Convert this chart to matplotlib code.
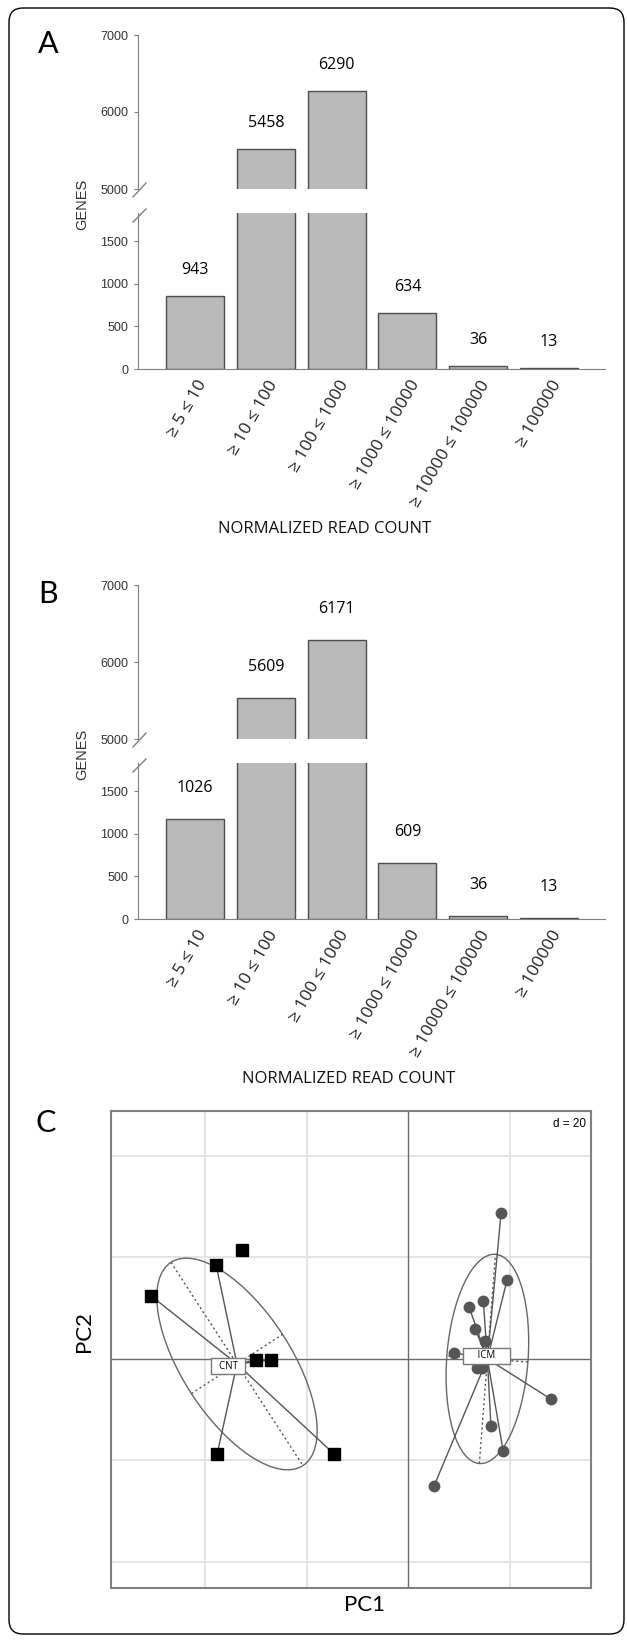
import numpy as np
import matplotlib
matplotlib.use("Agg")
import matplotlib.pyplot as plt
from matplotlib.patches import Ellipse, FancyBboxPatch
from matplotlib.lines import Line2D
from matplotlib.transforms import IdentityTransform, ScaledTranslation

W, H = 627, 1642

# histogram panels (bar heights as drawn, labels as printed)
bins = ["≥ 5 ≤ 10", "≥ 10 ≤ 100", "≥ 100 ≤ 1000", "≥ 1000 ≤ 10000",
        "≥ 10000 ≤ 100000", "≥ 100000"]
heights_a = [855, 5520, 6275, 655, 36, 13]
labels_a = ["943", "5458", "6290", "634", "36", "13"]
heights_b = [1170, 5530, 6285, 655, 36, 13]
labels_b = ["1026", "5609", "6171", "609", "36", "13"]

# PCA panel
cnt_x = [-32.7, -37.8, -50.6, -29.9, -27.0, -37.6, -14.6]
cnt_y = [21.5, 18.5, 12.4, -0.2, -0.2, -18.7, -18.7]
cnt_star = [False, True, True, True, True, True, True]
icm_x = [18.3, 19.5, 12.0, 14.8, 13.2, 15.2, 9.1, 13.6, 14.6, 28.1, 16.3, 18.7, 5.1]
icm_y = [28.7, 15.6, 10.2, 11.4, 5.9, 3.5, 1.2, -1.8, -1.8, -7.9, -13.2, -18.1, -25.0]
icm_star = [True] * len(icm_x)
cnt_center = (-33.7, -1.0)
icm_center = (15.6, 0.0)
cnt_ell = (47.7, 21.4, -57)   # width, height, angle
icm_ell = (41.3, 16.0, 85.6)
cnt_lab = (-35.4, -1.4)
icm_lab = (15.4, 0.6)

BAR = "#b9b9b9"
EDGE = "#4d4d4d"
SPINE = "#7f7f7f"
VAL_FONT = ["Open Sans", "DejaVu Sans"]


def px_axes(fig, l, t, r, b):
    return fig.add_axes([l / W, 1 - b / H, (r - l) / W, (b - t) / H])


def fig_line(fig, xs, ys, **kw):
    fig.add_artist(Line2D([x / W for x in xs], [1 - y / H for y in ys],
                          transform=fig.transFigure, **kw))


def bar_panel(fig, off, heights, labels, lab_off, title_x, letter):
    up = px_axes(fig, 138, 35 + off, 605, 189 + off)
    lo = px_axes(fig, 138, 213 + off, 605, 369 + off)
    x = np.arange(len(bins))
    for ax in (up, lo):
        ax.bar(x, heights, width=0.82, color=BAR, edgecolor=EDGE, linewidth=1)
        ax.set_xlim(-0.805, 5.79)
        for s in ("top", "right"):
            ax.spines[s].set_visible(False)
        ax.spines["left"].set_color(SPINE)
        ax.tick_params(axis="y", length=3, color=SPINE, labelsize=9,
                       labelcolor="#333333", pad=4)
    up.spines["bottom"].set_visible(False)
    up.set_xticks([])
    up.set_ylim(5000, 7000)
    up.set_yticks([5000, 6000, 7000])
    lo.set_ylim(0, 1830)
    lo.set_yticks([0, 500, 1000, 1500])
    lo.spines["bottom"].set_color(SPINE)
    for ax in (up, lo):
        for t in ax.get_yticklabels():
            t.set_family("Liberation Sans")
    lo.set_xticks(x)
    lo.set_xticklabels(bins, rotation=60, ha="right", va="center",
                       rotation_mode="anchor", fontsize=12.5, family=VAL_FONT,
                       color="#222222")
    lo.tick_params(axis="x", length=0, pad=9)
    shift = ScaledTranslation(6 / 72, 0, fig.dpi_scale_trans)
    for t in lo.get_xticklabels():
        t.set_transform(t.get_transform() + shift)

    for i, (h, lab) in enumerate(zip(heights, labels)):
        ax = up if h > 5000 else lo
        ax.annotate(lab, (i, h), xytext=(0, lab_off * 0.72), textcoords="offset points",
                    ha="center", va="center", fontsize=11.5, family=VAL_FONT)

    # axis break marks
    fig_line(fig, [133, 146], [197 + off, 183 + off], color=SPINE, lw=1)
    fig_line(fig, [133, 146], [222 + off, 209 + off], color=SPINE, lw=1)

    fig.text(82 / W, 1 - (204 + off) / H, "GENES", rotation=90, ha="center", va="center",
             fontsize=10.5, family="Liberation Sans", color="#333333")
    fig.text(title_x / W, 1 - (529 + off) / H, "NORMALIZED READ COUNT", ha="center",
             va="center", fontsize=12, family=VAL_FONT, color="#111111")
    fig.text(48 / W, 1 - (44 + off) / H, letter, ha="center", va="center",
             fontsize=22, family="Lato", color="black")


fig = plt.figure(figsize=(W / 100, H / 100), dpi=100)

bar_panel(fig, 0, heights_a, labels_a, 26, 325, "A")
bar_panel(fig, 550, heights_b, labels_b, 31, 349, "B")

# panel C
ax = px_axes(fig, 111, 1111, 591, 1588)
ax.set_xlim(-58.5, 36.0)
ax.set_ylim(-45.1, 48.8)
ax.set_xticks([])
ax.set_yticks([])
for s in ax.spines.values():
    s.set_color("#808080")
    s.set_linewidth(1.5)
for v in [-40, -20, 20]:
    ax.axvline(v, color="#e2e2e2", lw=1.3, zorder=0)
for v in [-40, -20, 20, 40]:
    ax.axhline(v, color="#e2e2e2", lw=1.3, zorder=0)
ax.axvline(0, color="#6a6a6a", lw=1, zorder=1)
ax.axhline(0, color="#6a6a6a", lw=1, zorder=1)


def group(xs, ys, stars, center, ell, lab_pos, name, marker, mcolor, msize):
    cx, cy = center
    w, h, a = ell
    ax.add_patch(Ellipse(center, w, h, angle=a, fill=False, ec="#666666", lw=1, zorder=2))
    t = np.deg2rad(a)
    mx, my = np.cos(t) * w / 2, np.sin(t) * w / 2
    nx, ny = -np.sin(t) * h / 2, np.cos(t) * h / 2
    ax.plot([cx - mx, cx + mx], [cy - my, cy + my], ls=(0, (1.5, 2)), color="#555555", lw=1, zorder=2)
    ax.plot([cx - nx, cx + nx], [cy - ny, cy + ny], ls=(0, (1.5, 2)), color="#555555", lw=1, zorder=2)
    for x, y, s in zip(xs, ys, stars):
        if s:
            ax.plot([cx, x], [cy, y], color="#555555", lw=1, zorder=3)
    ax.plot(xs, ys, ls="none", marker=marker, color=mcolor, ms=msize, zorder=4)
    ax.text(lab_pos[0], lab_pos[1], name, ha="center", va="center", fontsize=7,
            family=VAL_FONT, zorder=5,
            bbox=dict(boxstyle="square,pad=0.25", fc="white", ec="#777777", lw=1))


group(cnt_x, cnt_y, cnt_star, cnt_center, cnt_ell, cnt_lab, "  CNT  ", "s", "black", 8.8)
group(icm_x, icm_y, icm_star, icm_center, icm_ell, icm_lab, "     ICM     ", "o", "#555555", 7.5)

ax.text(0.99, 0.985, "d = 20", transform=ax.transAxes, ha="right", va="top",
        fontsize=8.5, family="Liberation Sans")
fig.text(364 / W, 1 - 1605 / H, "PC1", ha="center", va="center", fontsize=16, family="Lato")
fig.text(84 / W, 1 - 1332 / H, "PC2", ha="center", va="center", rotation=90,
         fontsize=16, family="Lato")
fig.text(46 / W, 1 - 1123 / H, "C", ha="center", va="center", fontsize=22,
         family="Lato", color="black")

# outer frame
fig.add_artist(FancyBboxPatch((9, H - 1634), 615, 1626,
                              boxstyle="round,pad=0,rounding_size=14",
                              transform=IdentityTransform(), fill=False,
                              ec="black", lw=1))

fig.savefig("out.png", dpi=100)
